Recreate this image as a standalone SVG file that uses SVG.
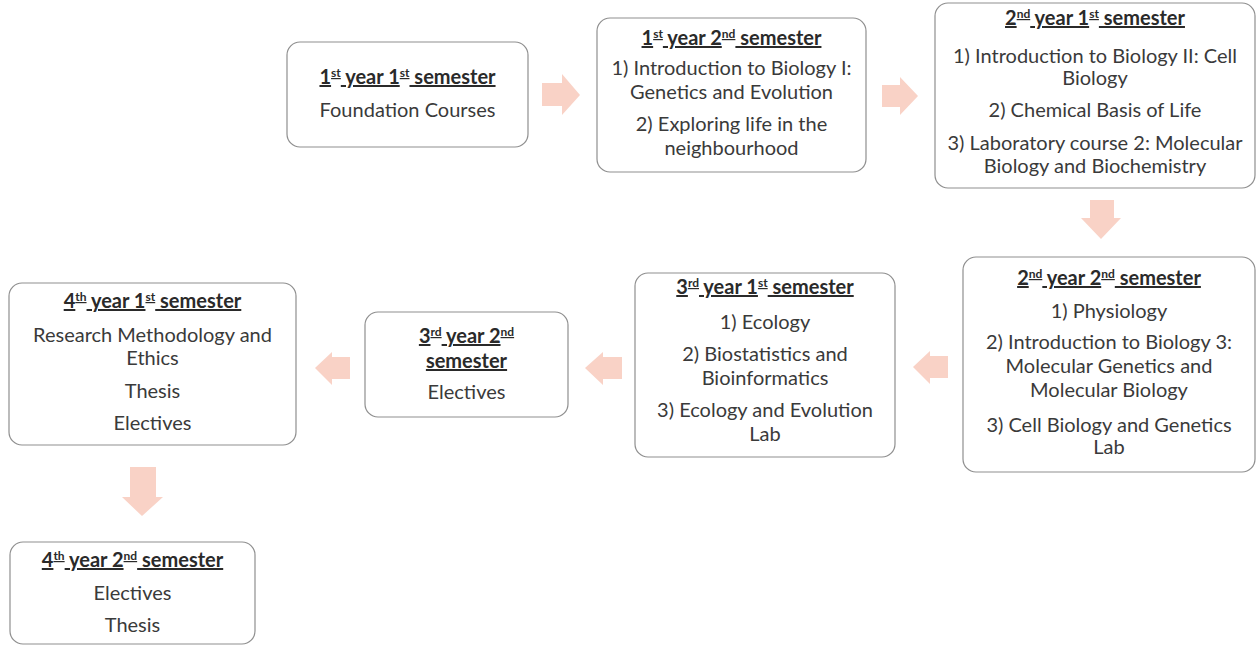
<svg xmlns="http://www.w3.org/2000/svg" width="1257" height="645" viewBox="0 0 1257 645">
<style>
.box{fill:#ffffff;stroke:#8f8f8f;stroke-width:1.2}
.t{font-family:Lato,"Liberation Sans",sans-serif;font-size:20px;fill:#3a3a3a;text-anchor:middle}
.h{font-weight:bold;fill:#2a2a2a;text-decoration:underline}
.sup{font-size:12px}
.arr{fill:#f9d2c6}
</style>
<rect width="1257" height="645" fill="#ffffff"/>
<g id="connectors">
<polygon class="arr" points="542,83 562,83 562,74 580,95 562,115 562,106 542,106"/>
<polygon class="arr" points="882,85 900,85 900,77 918,96 900,115 900,107 882,107"/>
<polygon class="arr" points="1090,200 1114,200 1114,218 1121,218 1101,239 1081,218 1090,218"/>
<polygon class="arr" points="948,356 930,356 930,351 913,367 930,384 930,378 948,378"/>
<polygon class="arr" points="622,357 603,357 603,352 585,368 603,385 603,379 622,379"/>
<polygon class="arr" points="350,357 332,357 332,352 315,368 332,385 332,379 350,379"/>
<polygon class="arr" points="130,467 156,467 156,497 163,497 142,516 122,497 130,497"/>
</g>
<g id="y1s1">
<rect class="box" x="287" y="42" width="241" height="105" rx="13"/>
<text class="t h" x="407.5" y="84">1<tspan class="sup" baseline-shift="super">st</tspan> year 1<tspan class="sup" baseline-shift="super">st</tspan> semester</text>
<text class="t" x="407.5" y="117">Foundation Courses</text>
</g>
<g id="y1s2">
<rect class="box" x="597" y="18" width="269" height="154" rx="13"/>
<text class="t h" x="731.5" y="45">1<tspan class="sup" baseline-shift="super">st</tspan> year 2<tspan class="sup" baseline-shift="super">nd</tspan> semester</text>
<text class="t" x="731.5" y="75">1) Introduction to Biology I:</text>
<text class="t" x="731.5" y="99">Genetics and Evolution</text>
<text class="t" x="731.5" y="131">2) Exploring life in the</text>
<text class="t" x="731.5" y="155">neighbourhood</text>
</g>
<g id="y2s1">
<rect class="box" x="935" y="3" width="320" height="185" rx="13"/>
<text class="t h" x="1095" y="25">2<tspan class="sup" baseline-shift="super">nd</tspan>  year 1<tspan class="sup" baseline-shift="super">st</tspan> semester</text>
<text class="t" x="1095" y="63">1) Introduction to Biology II: Cell</text>
<text class="t" x="1095" y="85">Biology</text>
<text class="t" x="1095" y="117">2) Chemical Basis of Life</text>
<text class="t" x="1095" y="150">3) Laboratory course 2: Molecular</text>
<text class="t" x="1095" y="173">Biology and Biochemistry</text>
</g>
<g id="y2s2">
<rect class="box" x="963" y="257" width="292" height="215" rx="13"/>
<text class="t h" x="1109" y="285">2<tspan class="sup" baseline-shift="super">nd</tspan> year 2<tspan class="sup" baseline-shift="super">nd</tspan> semester</text>
<text class="t" x="1109" y="318">1) Physiology</text>
<text class="t" x="1109" y="349">2) Introduction to Biology 3:</text>
<text class="t" x="1109" y="373">Molecular Genetics and</text>
<text class="t" x="1109" y="397">Molecular Biology</text>
<text class="t" x="1109" y="432">3) Cell Biology and Genetics</text>
<text class="t" x="1109" y="454">Lab</text>
</g>
<g id="y3s1">
<rect class="box" x="635" y="273" width="260" height="184" rx="13"/>
<text class="t h" x="765" y="294">3<tspan class="sup" baseline-shift="super">rd</tspan> year 1<tspan class="sup" baseline-shift="super">st</tspan> semester</text>
<text class="t" x="765" y="329">1) Ecology</text>
<text class="t" x="765" y="361">2) Biostatistics and</text>
<text class="t" x="765" y="385">Bioinformatics</text>
<text class="t" x="765" y="417">3) Ecology and Evolution</text>
<text class="t" x="765" y="441">Lab</text>
</g>
<g id="y3s2">
<rect class="box" x="365" y="312" width="203" height="105" rx="13"/>
<text class="t h" x="466.5" y="343">3<tspan class="sup" baseline-shift="super">rd</tspan>  year 2<tspan class="sup" baseline-shift="super">nd</tspan></text>
<text class="t h" x="466.5" y="368">semester</text>
<text class="t" x="466.5" y="399">Electives</text>
</g>
<g id="y4s1">
<rect class="box" x="9" y="283" width="287" height="162" rx="13"/>
<text class="t h" x="152.5" y="308">4<tspan class="sup" baseline-shift="super">th</tspan>  year 1<tspan class="sup" baseline-shift="super">st</tspan> semester</text>
<text class="t" x="152.5" y="342">Research Methodology and</text>
<text class="t" x="152.5" y="365">Ethics</text>
<text class="t" x="152.5" y="398">Thesis</text>
<text class="t" x="152.5" y="430">Electives</text>
</g>
<g id="y4s2">
<rect class="box" x="10" y="542" width="245" height="102" rx="13"/>
<text class="t h" x="132.5" y="567">4<tspan class="sup" baseline-shift="super">th</tspan>  year 2<tspan class="sup" baseline-shift="super">nd</tspan> semester</text>
<text class="t" x="132.5" y="600">Electives</text>
<text class="t" x="132.5" y="632">Thesis</text>
</g>
</svg>
